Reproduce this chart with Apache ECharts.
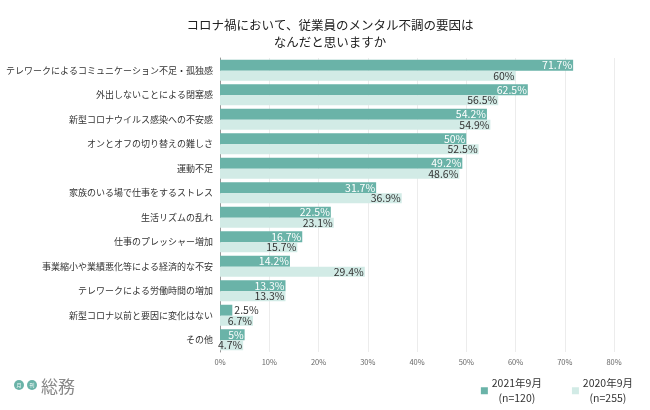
<!DOCTYPE html>
<html><head><meta charset="utf-8">
<script src="https://cdn.jsdelivr.net/npm/echarts@6/dist/echarts.min.js"></script>
<style>html,body{margin:0;padding:0;background:#fff}#c{width:650px;height:410px}</style>
</head><body><div id="c"></div>
<script>
const categories = [
  'テレワークによるコミュニケーション不足・孤独感',
  '外出しないことによる閉塞感',
  '新型コロナウイルス感染への不安感',
  'オンとオフの切り替えの難しさ',
  '運動不足',
  '家族のいる場で仕事をするストレス',
  '生活リズムの乱れ',
  '仕事のプレッシャー増加',
  '事業縮小や業績悪化等による経済的な不安',
  'テレワークによる労働時間の増加',
  '新型コロナ以前と要因に変化はない',
  'その他'
];
const values2021 = [71.7, 62.5, 54.2, 50, 49.2, 31.7, 22.5, 16.7, 14.2, 13.3, 2.5, 5];
const values2020 = [60, 56.5, 54.9, 52.5, 48.6, 36.9, 23.1, 15.7, 29.4, 13.3, 6.7, 4.7];
const seriesNames = ['2021年9月', '2020年9月'];
const sampleSizes = ['(n=120)', '(n=255)'];
const xTicks = [0, 10, 20, 30, 40, 50, 60, 70, 80];

const dark = '#6ab3a8', light = '#d2ebe6';
const font = '"Noto Sans CJK JP", "Noto Sans", sans-serif';

const chart = echarts.init(document.getElementById('c'));
chart.setOption({
  animation: false,
  textStyle: { fontFamily: font },
  title: {
    text: 'コロナ禍において、従業員のメンタル不調の要因は\nなんだと思いますか',
    left: 325, top: 12, textAlign: 'center',
    textStyle: { fontSize: 12.5, fontWeight: 'normal', color: '#222', lineHeight: 17, fontFamily: font }
  },
  grid: { left: 220, right: 36, top: 58, bottom: 58, containLabel: false, outerBoundsMode: 'none' },
  xAxis: {
    type: 'value', min: xTicks[0], max: xTicks[xTicks.length - 1], interval: 10,
    axisLabel: { formatter: '{value}%', fontSize: 7.5, color: '#666', margin: 6 },
    axisLine: { show: false }, axisTick: { show: false },
    splitLine: { lineStyle: { color: '#ececec' } }
  },
  yAxis: {
    type: 'category', data: categories, inverse: true,
    axisLine: { show: true, lineStyle: { color: '#999' } },
    axisTick: { show: false },
    axisLabel: { fontSize: 9, color: '#333', margin: 7 }
  },
  legend: {
    right: 12, top: 373, itemWidth: 7, itemHeight: 7, itemGap: 30,
    icon: 'rect',
    formatter: name => '{a|' + name + '}\n{a|' + sampleSizes[seriesNames.indexOf(name)] + '}',
    textStyle: {
      color: '#333', padding: [0, 0, 0, 1],
      rich: { a: { fontSize: 10.5, lineHeight: 15, width: 46, align: 'center', color: '#333', fontFamily: font } }
    },
    data: seriesNames
  },
  series: [
    {
      name: seriesNames[0], type: 'bar', data: values2021.map(v => v < 4 ? { value: v, label: { position: 'right', color: '#333', distance: 2 } } : v),
      barWidth: 11, barGap: '0%',
      itemStyle: { color: dark },
      label: { show: true, position: 'insideRight', distance: 1, color: '#fff', fontSize: 10.5, formatter: '{c}%' }
    },
    {
      name: seriesNames[1], type: 'bar', data: values2020,
      barWidth: 10,
      itemStyle: { color: light },
      label: { show: true, position: 'insideRight', distance: 1, color: '#333', fontSize: 10.5, formatter: '{c}%' }
    }
  ],
  graphic: [
    { type: 'circle', shape: { cx: 19, cy: 385, r: 5 }, style: { fill: '#6ab3a8' } },
    { type: 'circle', shape: { cx: 32, cy: 385, r: 5 }, style: { fill: '#6ab3a8' } },
    { type: 'text', x: 19, y: 385, style: { text: '月', fill: '#fff', fontSize: 5, align: 'center', verticalAlign: 'middle', fontFamily: font } },
    { type: 'text', x: 32, y: 385, style: { text: '刊', fill: '#fff', fontSize: 5, align: 'center', verticalAlign: 'middle', fontFamily: font } },
    { type: 'text', x: 41, y: 387, style: { text: '総務', fill: '#888', fontSize: 17, verticalAlign: 'middle', fontFamily: font } }
  ]
});
</script></body></html>
